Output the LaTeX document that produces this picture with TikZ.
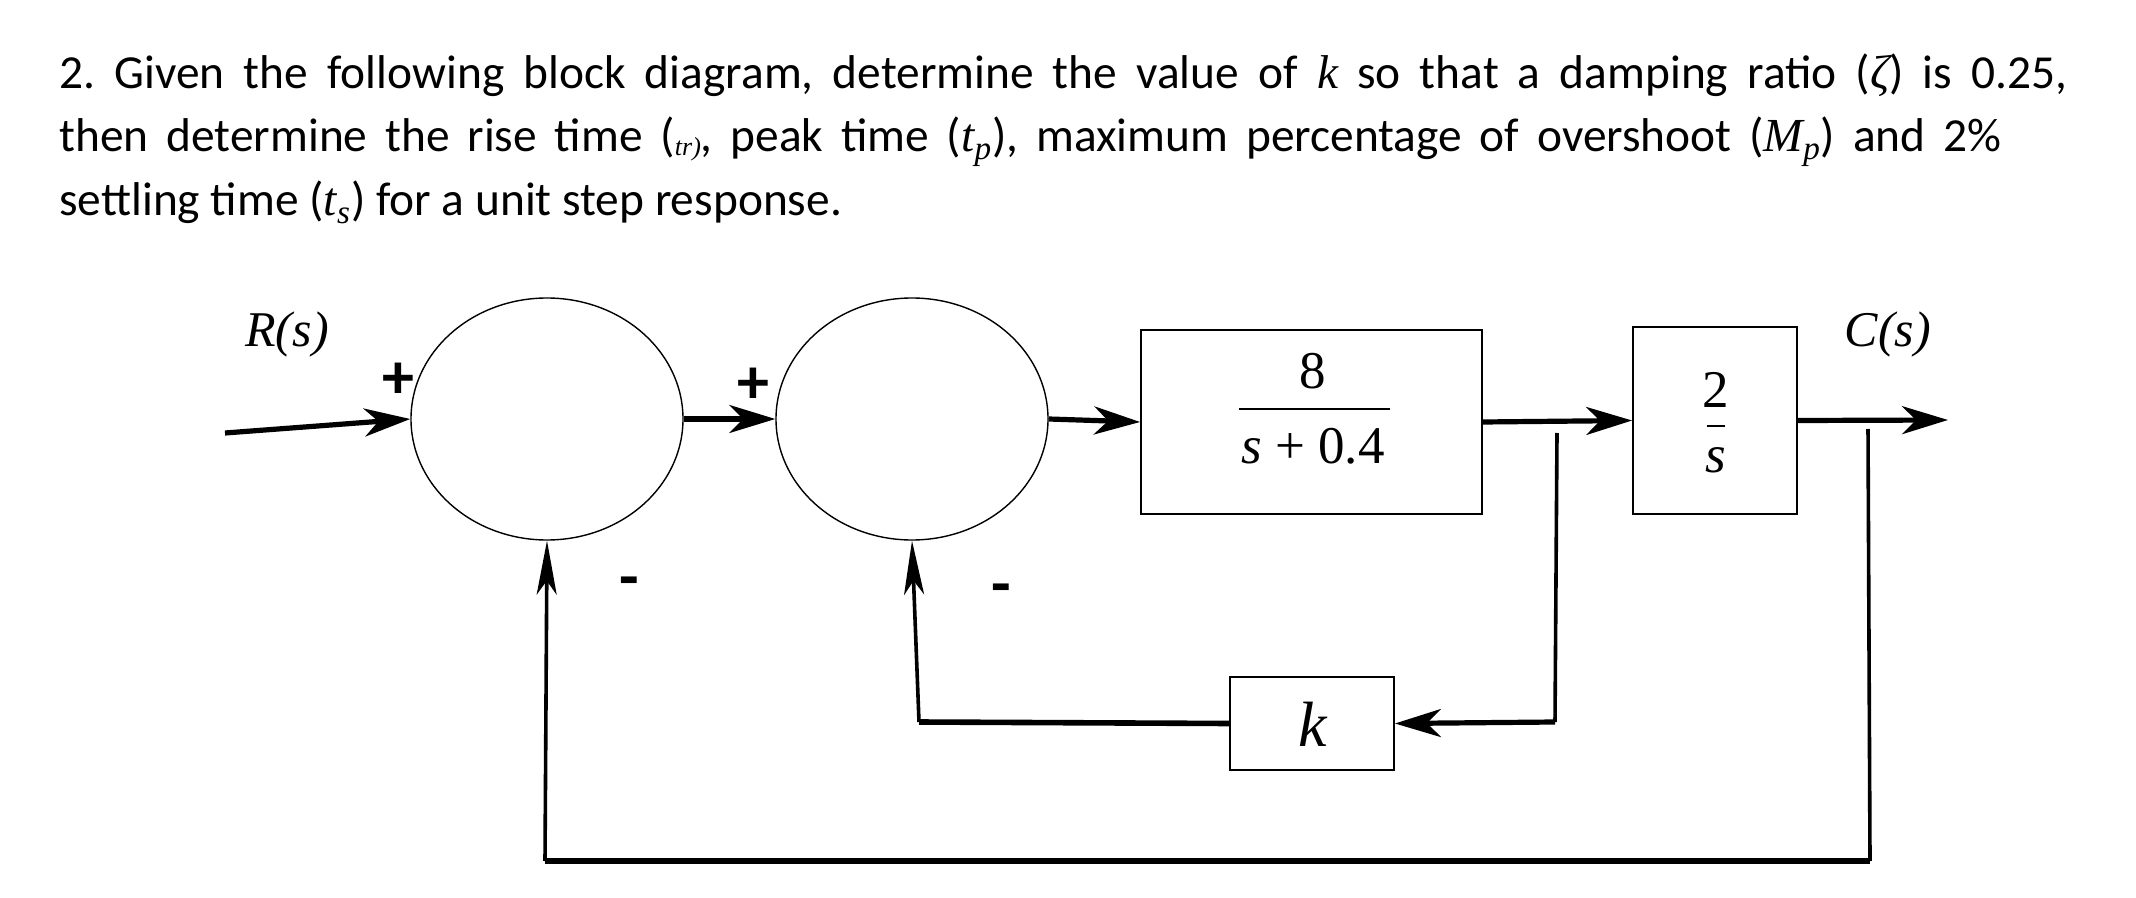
\documentclass[tikz,border=0pt]{standalone}
\usepackage{fontspec}
\setmainfont{Carlito}
\newfontfamily\tms{Liberation Serif}
\usetikzlibrary{shapes.geometric,arrows.meta}
\begin{document}
\frenchspacing
\begin{tikzpicture}[x=0.5pt,y=-0.5pt,
  qtext/.style={anchor=base west,inner sep=0pt,font=\fontsize{23.7}{28}\selectfont},
  sumj/.style={draw,ellipse,line width=0.7pt,minimum width=136pt,minimum height=121pt,inner sep=0pt},
  blk/.style={draw,line width=0.9pt,inner sep=0pt},
  lbl/.style={inner sep=0pt,font=\tms\itshape\fontsize{25}{30}\selectfont},
  frac/.style={inner sep=0pt,font=\tms\fontsize{26.5}{30}\selectfont},
  sgn/.style={inner sep=0pt,font=\bfseries\fontsize{32}{34}\selectfont},
  arr/.style={line width=2.6pt,-{Stealth[length=23pt,width=14pt,inset=7pt]}},
  uparr/.style={line width=1.8pt,-{Stealth[length=27pt,width=10pt,inset=7pt]}},
  fb/.style={line width=1.8pt},
  fbh/.style={line width=2.8pt}]
\useasboundingbox (0,0) rectangle (2136,898);
\fill[white] (0,0) rectangle (2136,898);
% question text
\node[qtext] (q1) at (59,89) {\hbox to 1004pt{2. Given the following block diagram, determine the value of {\tms\itshape k} so that a damping ratio ({\tms\itshape ζ}) is 0.25,}};
\node[qtext] (q2) at (59,152) {\hbox to 971pt{then determine the rise time (\raisebox{-2pt}{\tms\itshape\fontsize{13}{13}\selectfont tr)}, peak time ({\tms\itshape t\textsubscript{p}}), maximum percentage of overshoot ({\tms\itshape M\textsubscript{p}}) and 2\%}};
\node[qtext] (q3) at (59,216) {settling time ({\tms\itshape t\textsubscript{s}}) for a unit step response.};
% blocks
\node[sumj] (s1) at (547,419) {};
\node[sumj] (s2) at (912,419) {};
\node[blk,minimum width=170.5pt,minimum height=92pt] (b1) at (1311.5,422) {};
\node[frac] (n1) at (1313,371) {8};
\node[frac] (d1) at (1313,446) {\textit{s} + 0.4};
\draw[line width=1.4pt] (1239,409) -- (1390,409);
\node[blk,minimum width=82pt,minimum height=93.5pt] (b2) at (1715,420.5) {};
\node[frac] (n2) at (1716,390) {2};
\draw[line width=1.4pt] (1707,426) -- (1725,426);
\node[frac,font=\tms\itshape\fontsize{26.5}{30}\selectfont] (d2) at (1716,460) {s};
\node[blk,minimum width=82pt,minimum height=46.5pt] (kb) at (1312,723.5) {};
\node[inner sep=0pt,font=\tms\itshape\fontsize{32}{36}\selectfont] (kl) at (1313,724) {k};
% labels
\node[lbl] (R) at (287,334) {R(s)};
\node[lbl] (C) at (1888,334) {C(s)};
\node[sgn] (p1) at (398,381) {+};
\node[sgn] (p2) at (753,386) {+};
\node[sgn] (m1) at (629,588) {-};
\node[sgn] (m2) at (1001,595) {-};
% coordinates
\coordinate (in) at (225,433);
\coordinate (out) at (1948,420);
\coordinate (t1) at (1868,429);
\coordinate (t1b) at (1870,861);
\coordinate (c1) at (545,861);
\coordinate (t2) at (1557,433);
\coordinate (t2b) at (1555,722);
\coordinate (c2) at (919,722);
% forward path
\draw[arr] (in) -- (s1.west);
\draw[arr] (s1.east) -- (s2.west);
\draw[arr] (s2.east) -- (b1.west);
\draw[arr] (b1.east) -- (b2.west);
\draw[arr] (b2.east) -- (out);
% outer feedback
\draw[fb] (t1) -- (t1b);
\draw[fbh] (t1b) -- (c1);
\draw[uparr] (c1) -- (s1.south);
% inner feedback
\draw[fb] (t2) -- (t2b);
\draw[arr] (t2b) -- (kb.east);
\draw[fbh] (kb.west) -- (c2);
\draw[uparr] (c2) -- (s2.south);
\end{tikzpicture}
\end{document}
